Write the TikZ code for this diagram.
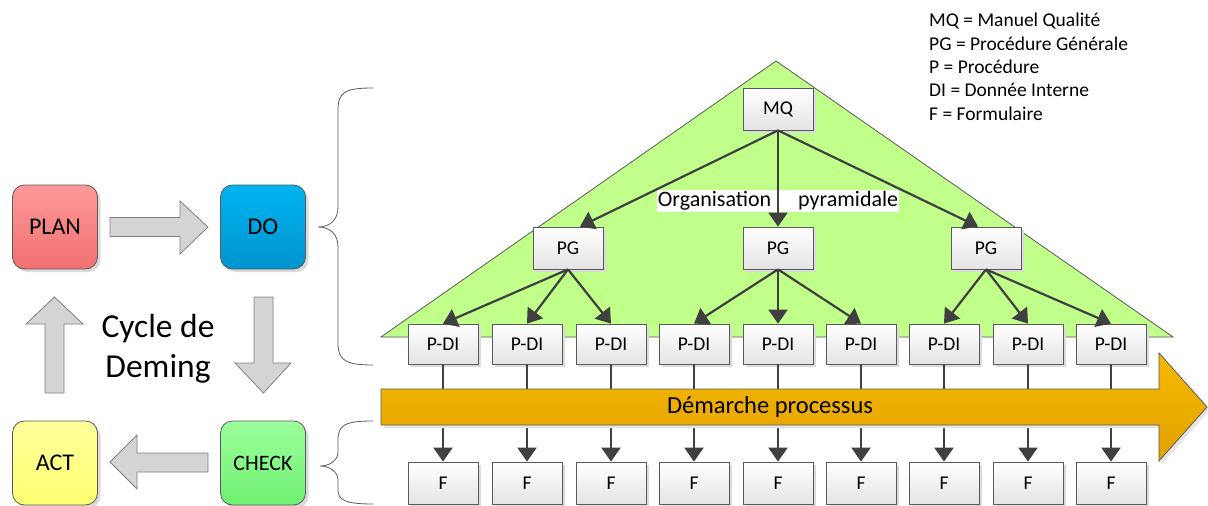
\documentclass[tikz,border=0pt]{standalone}
\usepackage{fontspec}
\setmainfont{Carlito}
\usetikzlibrary{arrows.meta,shadows,calc}
\definecolor{boxline}{HTML}{5A5A5A}
\definecolor{boxbot}{HTML}{E4E4E4}
\definecolor{conncol}{HTML}{404040}
\definecolor{trifill}{HTML}{C0FF8A}
\definecolor{planT}{HTML}{FF9999}
\definecolor{planB}{HTML}{F07070}
\definecolor{doT}{HTML}{00B4F0}
\definecolor{doB}{HTML}{0094D0}
\definecolor{actT}{HTML}{FFFF9C}
\definecolor{actB}{HTML}{FFFF70}
\definecolor{chkT}{HTML}{9CFF9C}
\definecolor{chkB}{HTML}{70F070}
\definecolor{orT}{HTML}{F6BA00}
\definecolor{orB}{HTML}{E2A000}
\definecolor{blkfill}{HTML}{D4D4D4}
\definecolor{blkline}{HTML}{808080}
\begin{document}
\begin{tikzpicture}[x=1pt,y=-1pt,
  box/.style={draw=boxline, line width=0.8pt, top color=white, bottom color=boxbot,
    minimum width=70pt, minimum height=40pt, inner sep=0pt,
    font=\fontsize{19.5}{22}\selectfont,
    drop shadow={shadow xshift=3pt,shadow yshift=-3pt,fill=black!14,opacity=1}},
  pdca/.style={draw=boxline, line width=0.8pt, rounded corners=12pt,
    minimum width=85pt, minimum height=84pt, inner sep=0pt,
    font=\fontsize{24}{28}\selectfont,
    drop shadow={shadow xshift=3pt,shadow yshift=-3pt,fill=black!14,opacity=1}},
  conn/.style={draw=conncol, line width=2.2pt, -{Triangle[length=14pt,width=19pt]}},
  blk/.style={draw=blkline, line width=0.8pt, fill=blkfill},
  bracecol/.style={draw=boxline, line width=0.8pt},
  legend/.style={anchor=base west, inner sep=0pt, font=\fontsize{19.5}{22}\selectfont},
]
\useasboundingbox (0,0) rectangle (1208,506);

% green triangle
\path[draw=boxline, line width=0.8pt, fill=trifill] (381,337) -- (776,61) -- (1173,337) -- cycle;

% braces
\draw[bracecol] (373,88) .. controls (345,88) and (338,92) .. (338,110) -- (338,207)
  .. controls (338,220) and (330,227) .. (318,227)
  .. controls (330,227) and (338,234) .. (338,247) -- (338,343)
  .. controls (338,360) and (345,365) .. (373,365);
\draw[bracecol] (373,421) .. controls (345,421) and (338,425) .. (338,440) -- (338,452)
  .. controls (338,460) and (330,466) .. (320,466)
  .. controls (330,466) and (338,472) .. (338,480) -- (338,490)
  .. controls (338,500) and (345,504) .. (373,504);

% PDCA boxes
\node[pdca, top color=planT, bottom color=planB] (plan) at (55,227) {PLAN};
\node[pdca, top color=doT, bottom color=doB] (do) at (263,227) {DO};
\node[pdca, top color=actT, bottom color=actB] (act) at (55,463) {ACT};
\node[pdca, top color=chkT, bottom color=chkB, font=\fontsize{22}{26}\selectfont] (check) at (263,463) {CHECK};

% block arrows
\path[blk] (110,217.5) -- (180,217.5) -- (180,201) -- (208,227) -- (180,254) -- (180,236.5) -- (110,236.5) -- cycle;
\path[blk] (254,297) -- (273,297) -- (273,363) -- (291,363) -- (263.5,393) -- (235,363) -- (254,363) -- cycle;
\path[blk] (208,453) -- (137,453) -- (137,435) -- (110,462) -- (137,489) -- (137,472) -- (208,472) -- cycle;
\path[blk] (45,393) -- (45,324) -- (26,324) -- (54.5,297) -- (83,324) -- (64,324) -- (64,393) -- cycle;

\node[anchor=base, inner sep=0pt, font=\fontsize{33.5}{40}\selectfont] (cyc1) at (158,337) {Cycle de};
\node[anchor=base, inner sep=0pt, font=\fontsize{33.5}{40}\selectfont] (cyc2) at (158,377) {Deming};

% legend
\node[legend] (leg1) at (929,27) {MQ = Manuel Qualité};
\node[legend] (leg2) at (929,50.3) {PG = Procédure Générale};
\node[legend] (leg3) at (929,73.5) {P = Procédure};
\node[legend] (leg4) at (929,96.8) {DI = Donnée Interne};
\node[legend] (leg5) at (929,120) {F = Formulaire};

% hierarchy
\node[box, minimum height=42pt] (mq) at (778,109) {MQ};
\node[box, minimum height=42pt] (pg1) at (568,248) {PG};
\node[box, minimum height=42pt] (pg2) at (778,248) {PG};
\node[box, minimum height=42pt] (pg3) at (986,248) {PG};

\foreach \i/\x in {1/443,2/527,3/611,4/694,5/778,6/861,7/944,8/1028,9/1111}{
  \node[box] (p\i) at (\x,344) {P-DI};
  \node[box, minimum height=42pt] (f\i) at (\x,483) {F};
}

\node[fill=white, inner xsep=0.5pt, inner ysep=1.5pt, font=\fontsize{22}{26}\selectfont] (orgl) at (778,201) {Organisation\hspace{27pt}pyramidale};

\draw[conn] (mq.south) -- ([xshift=12pt]pg1.north);
\draw[conn] (mq.south) -- (pg2.north);
\draw[conn] (mq.south) -- ([xshift=-8pt]pg3.north);

\foreach \g/\a/\b/\c in {1/1/2/3,2/4/5/6,3/7/8/9}{
  \draw[conn] (pg\g.south) -- (p\a.north);
  \draw[conn] (pg\g.south) -- (p\b.north);
  \draw[conn] (pg\g.south) -- (p\c.north);
}

\foreach \i in {1,...,9}{
  \draw[conn] (p\i.south) -- (f\i.north);
}

% process arrow
\path[draw=boxline, line width=0.8pt, top color=orT, bottom color=orB,
  drop shadow={shadow xshift=3pt,shadow yshift=-3pt,fill=black!10,opacity=1}]
  (381,389) -- (1159,389) -- (1159,353) -- (1207,407) -- (1159,461) -- (1159,425) -- (381,425) -- cycle;
\node[inner sep=0pt, font=\fontsize{24.5}{28}\selectfont] (dem) at (770,407) {Démarche processus};
\end{tikzpicture}
\end{document}
